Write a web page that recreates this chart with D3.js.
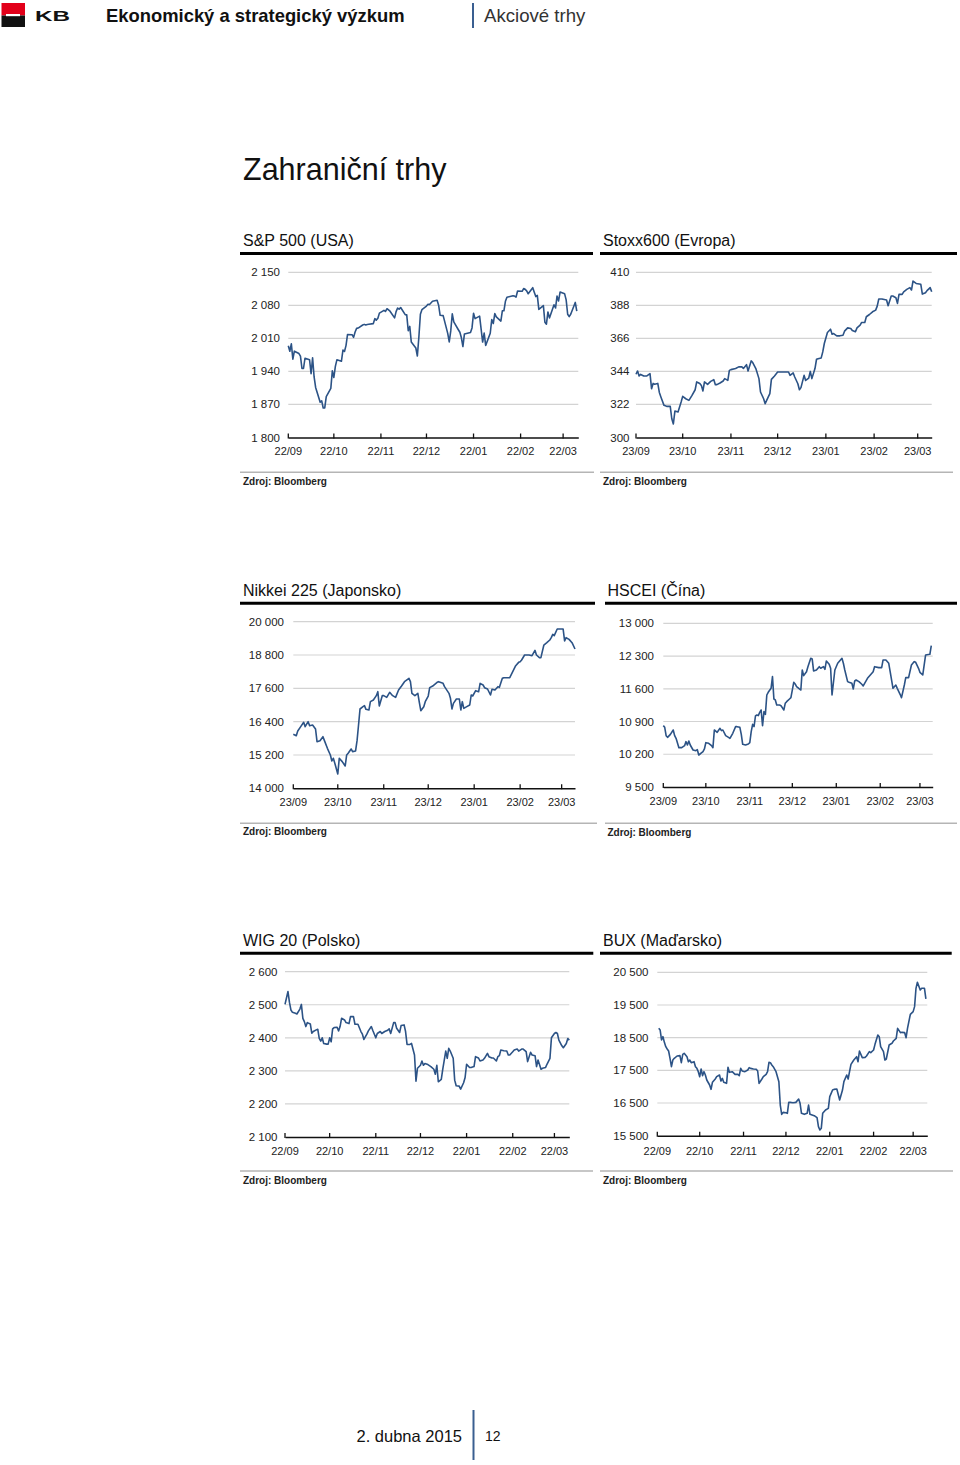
<!DOCTYPE html>
<html><head><meta charset="utf-8">
<script src="https://cdn.jsdelivr.net/npm/d3@7"></script>
<style>
body{margin:0;background:#fff}
svg{display:block}
text{font-family:"Liberation Sans",Arial,Helvetica,sans-serif}
</style>
</head><body>
<svg id="page" width="960" height="1465"></svg>
<script>
// ---------- DATA ----------
// each series: [days since first date, value]
const sp500 = [[0,1994.3],[1,1982.8],[2,1998.3],[3,1966.0],[4,1982.9],[7,1977.8],[8,1972.3],[9,1946.2],[10,1946.2],[11,1967.9],[14,1964.8],[15,1935.1],[16,1968.9],[17,1928.2],[18,1906.1],[21,1874.7],[22,1877.7],[23,1862.5],[24,1862.8],[25,1886.8],[28,1904.0],[29,1941.3],[30,1927.1],[31,1950.8],[32,1964.6],[35,1961.6],[36,1985.1],[37,1982.3],[38,1994.7],[39,2018.1],[42,2017.8],[43,2012.1],[44,2023.6],[45,2031.2],[46,2031.9],[49,2038.3],[50,2039.7],[51,2038.3],[52,2039.3],[53,2039.8],[56,2041.3],[57,2051.8],[58,2048.7],[59,2052.8],[60,2063.5],[63,2069.4],[64,2067.0],[65,2072.8],[67,2067.6],[70,2053.4],[71,2066.6],[72,2074.3],[73,2071.9],[74,2075.4],[77,2060.3],[78,2059.8],[79,2026.1],[80,2035.3],[81,2002.3],[84,1989.6],[85,1972.7],[86,2012.9],[87,2061.2],[88,2070.7],[91,2078.5],[92,2082.2],[93,2081.9],[95,2088.8],[98,2090.6],[99,2080.4],[100,2058.9],[102,2058.2],[105,2020.6],[106,2002.6],[107,2025.9],[108,2062.1],[109,2044.8],[112,2028.3],[113,2023.0],[114,2011.3],[115,1992.7],[116,2019.4],[120,2022.6],[121,2032.1],[122,2063.2],[123,2051.8],[126,2057.1],[127,2029.6],[128,2002.2],[129,2021.3],[130,1995.0],[133,2020.9],[134,2050.0],[135,2041.5],[136,2062.5],[137,2055.5],[140,2046.7],[141,2068.6],[142,2068.5],[143,2088.5],[144,2097.0],[148,2100.3],[149,2099.7],[150,2097.5],[151,2110.3],[154,2109.7],[155,2115.5],[156,2113.9],[157,2110.7],[158,2104.5],[161,2117.4],[162,2107.8],[163,2098.5],[164,2101.0],[165,2071.3],[168,2079.4],[169,2044.2],[170,2040.2],[171,2066.0],[172,2053.4],[175,2081.2],[176,2074.3],[177,2099.5],[178,2089.3],[179,2108.1],[182,2104.4],[183,2091.5],[184,2061.1],[185,2056.2],[186,2061.0],[189,2086.2],[190,2067.9]];

const stoxx600 = [[0,342.1],[1,344.3],[2,341],[3,342],[5,341],[7,341],[9,342.5],[10,332.5],[11,336],[12,335.5],[14,336],[15,330],[16,327],[18,321.4],[20,320.7],[22,320.7],[23,312.5],[24,309],[25,317.6],[27,317],[29,323.6],[30,327.4],[32,325.8],[34,324.7],[36,328],[38,331.8],[39,337],[41,336],[42,334.7],[43,331],[44,337],[46,335.4],[48,337.4],[50,338.5],[51,335.2],[52,335.2],[54,336.3],[56,337.6],[57,339.2],[59,338],[60,344.7],[61,345.2],[64,345.9],[66,347],[68,347],[69,346],[71,348.5],[72,344.3],[74,351],[75,349.9],[77,345.9],[79,339.2],[80,330.3],[82,325.8],[83,322.5],[85,327],[86,329.2],[87,338.7],[89,341],[91,343.6],[94,343.6],[96,343.6],[98,343.6],[99,341.4],[101,343],[102,340.3],[104,335.8],[105,331.8],[106,333.2],[108,341.4],[109,338],[111,339.6],[112,344],[113,339.2],[115,345.9],[116,352.1],[117,352.5],[119,353],[120,357],[121,362.6],[123,369.9],[125,372.1],[126,368.8],[127,369.2],[129,367.7],[131,367.7],[133,368.1],[134,370.8],[136,373],[138,372.6],[139,371.2],[141,370.4],[142,373],[144,374.8],[145,376.6],[147,376.6],[148,380.4],[150,381.9],[152,383.7],[154,384.8],[155,387.5],[156,392.2],[158,392.2],[161,391.5],[162,387.7],[164,394.2],[165,394.2],[167,393.1],[168,389.3],[169,395.3],[171,395.3],[172,397],[174,398.6],[176,399.8],[177,398.2],[178,404.2],[180,402.6],[183,402],[184,395.5],[186,396.4],[187,397.8],[189,399.8],[190,397.1]];

const nikkei225 = [[0,15944],[2,15896],[3,16064],[5,16220],[7,16376],[8,16220],[10,16400],[11,16256],[13,16280],[15,16136],[16,15680],[18,15716],[20,15860],[21,15716],[23,15440],[25,15200],[26,14984],[27,15080],[28,14900],[30,14516],[31,15080],[33,14960],[35,14804],[36,15200],[37,15260],[39,15416],[40,15320],[42,15344],[43,15716],[44,16280],[45,16856],[47,16940],[48,16976],[49,16844],[51,16820],[52,17120],[54,17180],[56,17336],[57,17480],[58,16964],[60,17336],[61,17336],[63,17276],[65,17456],[67,17336],[69,17276],[71,17540],[73,17684],[75,17840],[78,17960],[79,17840],[80,17420],[82,17336],[84,17420],[85,17096],[86,16796],[88,16940],[89,17120],[91,17324],[92,17624],[94,17684],[97,17816],[98,17840],[101,17780],[102,17660],[105,17420],[106,17240],[107,16856],[108,17060],[110,17216],[112,17216],[113,16820],[114,17120],[115,16880],[117,16940],[119,17000],[120,17360],[121,17324],[123,17516],[125,17480],[126,17780],[128,17720],[129,17624],[131,17576],[133,17360],[134,17564],[136,17540],[138,17660],[139,17636],[141,17960],[142,17984],[144,17984],[146,17984],[148,18200],[150,18416],[152,18536],[153,18560],[154,18620],[156,18800],[159,18800],[161,18776],[163,18968],[164,18800],[166,18704],[167,18704],[169,19160],[171,19244],[173,19340],[174,19424],[175,19544],[176,19496],[178,19736],[180,19736],[182,19736],[183,19304],[184,19424],[186,19364],[188,19244],[190,19016]];

const hscei = [[0,10812],[1,10776],[2,10598],[3,10562],[5,10626],[7,10719],[8,10598],[9,10541],[11,10341],[13,10341],[15,10384],[16,10470],[17,10398],[18,10484],[19,10398],[21,10291],[23,10277],[24,10298],[25,10184],[26,10206],[28,10256],[29,10313],[30,10448],[32,10434],[34,10384],[35,10341],[36,10719],[38,10669],[40,10755],[41,10705],[42,10719],[44,10598],[46,10562],[47,10541],[49,10648],[51,10790],[52,10790],[54,10776],[55,10626],[56,10413],[58,10398],[60,10420],[61,10448],[62,10683],[63,10840],[64,10790],[65,11018],[66,11040],[67,11026],[68,11097],[69,11147],[70,10812],[71,11111],[72,11054],[73,11467],[74,11525],[76,11610],[77,11860],[78,11382],[79,11361],[80,11254],[82,11254],[83,11239],[85,11147],[86,11289],[87,11325],[89,11382],[90,11410],[92,11738],[93,11703],[94,11646],[96,11596],[97,11574],[98,12002],[99,11881],[101,11966],[102,12073],[104,12252],[105,12238],[106,11981],[108,12002],[110,12073],[111,12038],[113,12073],[114,12016],[115,12195],[117,12123],[118,12038],[119,11467],[121,12002],[123,12145],[126,12252],[127,12145],[128,12002],[130,11753],[131,11738],[133,11717],[134,11596],[135,11767],[136,11788],[138,11753],[140,11696],[141,11660],[142,11717],[144,11824],[146,11895],[148,11966],[149,12073],[152,12052],[154,12052],[155,12216],[157,12216],[159,12145],[160,11966],[162,11610],[164,11681],[165,11610],[167,11482],[168,11410],[170,11681],[171,11838],[173,11838],[175,12109],[177,12181],[178,12166],[180,12038],[181,11952],[183,11895],[185,12323],[188,12337],[189,12522]];

const wig20 = [[0,2501],[2,2540],[3,2507],[4,2484],[5,2477],[7,2474],[8,2472],[10,2487],[11,2501],[12,2459],[13,2449],[14,2434],[15,2446],[17,2442],[18,2414],[19,2419],[21,2424],[22,2426],[23,2398],[24,2390],[25,2400],[26,2383],[28,2381],[29,2381],[30,2400],[31,2388],[32,2427],[33,2431],[35,2432],[36,2421],[37,2434],[38,2459],[40,2454],[41,2446],[43,2443],[44,2464],[46,2464],[47,2441],[49,2441],[51,2419],[52,2411],[53,2395],[55,2411],[56,2421],[58,2434],[59,2422],[61,2400],[62,2413],[64,2419],[65,2413],[67,2419],[69,2423],[70,2427],[71,2413],[73,2446],[74,2446],[75,2429],[77,2416],[78,2437],[80,2439],[81,2419],[82,2380],[84,2380],[85,2383],[87,2348],[88,2269],[89,2308],[91,2317],[92,2330],[93,2317],[94,2322],[96,2319],[98,2313],[100,2305],[101,2290],[102,2317],[103,2267],[105,2274],[106,2305],[108,2360],[109,2338],[110,2368],[111,2360],[113,2338],[114,2272],[115,2255],[117,2254],[118,2245],[120,2264],[121,2280],[122,2320],[124,2310],[125,2310],[127,2313],[128,2343],[130,2339],[131,2330],[133,2333],[134,2338],[136,2353],[137,2343],[139,2339],[140,2339],[142,2330],[143,2343],[144,2346],[145,2363],[147,2361],[149,2360],[150,2348],[151,2348],[153,2358],[154,2363],[156,2366],[157,2360],[159,2366],[160,2366],[162,2358],[163,2328],[165,2356],[166,2348],[168,2346],[169,2313],[170,2333],[172,2305],[173,2308],[175,2310],[176,2320],[178,2338],[179,2400],[181,2413],[182,2416],[183,2413],[184,2393],[186,2376],[187,2370],[189,2383],[190,2398],[191,2393]];

const bux = [[1,18786],[2,18735],[3,18429],[4,18531],[5,18357],[6,18224],[7,18153],[8,18092],[9,17867],[10,17612],[11,17816],[12,17867],[14,17939],[16,17949],[17,17735],[18,17990],[19,18020],[21,17918],[22,17765],[23,17816],[24,17735],[26,17765],[27,17612],[28,17561],[29,17459],[30,17306],[31,17541],[32,17337],[33,17459],[34,17357],[35,17204],[37,17051],[38,16918],[39,17133],[41,17235],[42,17306],[44,17357],[45,17173],[46,17255],[47,17133],[49,17102],[50,17592],[51,17439],[53,17459],[55,17378],[57,17378],[58,17337],[59,17561],[60,17480],[62,17459],[64,17510],[65,17582],[66,17561],[68,17541],[70,17531],[71,17480],[72,17102],[74,17235],[75,17306],[77,17378],[78,17459],[79,17745],[80,17735],[81,17663],[82,17612],[84,17459],[86,17153],[87,16439],[88,16153],[89,16214],[91,16204],[92,16184],[93,16520],[94,16520],[96,16510],[98,16520],[100,16622],[101,16490],[102,16184],[104,16153],[106,16184],[107,16439],[108,16153],[111,16112],[113,16051],[114,15776],[115,15674],[116,15725],[117,16184],[119,16286],[121,16337],[122,16694],[124,16898],[125,16918],[127,16929],[129,16592],[131,16898],[132,17153],[134,17357],[135,17235],[136,17459],[137,17684],[139,17816],[141,17918],[142,17765],[143,18092],[145,17888],[147,17898],[148,17939],[150,18071],[151,18041],[153,18122],[154,18296],[156,18582],[157,18531],[158,18224],[160,18071],[161,17816],[162,17847],[164,18276],[166,18327],[167,18398],[169,18480],[170,18786],[172,18653],[173,18663],[175,18653],[176,18500],[177,18786],[179,19214],[181,19296],[182,19449],[183,20010],[184,20194],[186,19959],[187,20010],[189,20010],[190,19684]];

const titles = ["S&P 500 (USA)","Stoxx600 (Evropa)","Nikkei 225 (Japonsko)","HSCEI (Čína)","WIG 20 (Polsko)","BUX (Maďarsko)"];
const startDates = ["2014-09-22","2014-09-23","2014-09-23","2014-09-23","2014-09-22","2014-09-22"];
const endDate = "2015-04-01";

const spYTicks = [1800,1870,1940,2010,2080,2150];
const stoxxYTicks = [300,322,344,366,388,410];
const nikkeiYTicks = [14000,15200,16400,17600,18800,20000];
const hsceiYTicks = [9500,10200,10900,11600,12300,13000];
const wigYTicks = [2100,2200,2300,2400,2500,2600];
const buxYTicks = [15500,16500,17500,18500,19500,20500];

const xTicks22 = ["22/09","22/10","22/11","22/12","22/01","22/02","22/03"];
const xTicks23 = ["23/09","23/10","23/11","23/12","23/01","23/02","23/03"];

const sourceNote = "Zdroj: Bloomberg";
const headerTitle = "Ekonomický a strategický výzkum";
const headerSection = "Akciové trhy";
const pageTitle = "Zahraniční trhy";
const footerDate = "2. dubna 2015";
const pageNumber = "12";

// ---------- LAYOUT ----------
const layouts = [
 {x0:288.3,x1:578.3,yTop:272.3,yBot:437.5,labelRight:280,titleX:243,titleY:245.5,ruleY:253.5,ruleX1:240,ruleX2:593,xLabelY:455,noteRuleY:472.3,noteRuleX1:240,noteRuleX2:594,noteY:484.5,noteX:243},
 {x0:636,x1:931.7,yTop:272.3,yBot:437.5,labelRight:629.5,titleX:603,titleY:245.5,ruleY:253.5,ruleX1:600,ruleX2:957,xLabelY:455,noteRuleY:472.3,noteRuleX1:600,noteRuleX2:953,noteY:484.5,noteX:603},
 {x0:293.3,x1:575,yTop:621.7,yBot:788.3,labelRight:284,titleX:243,titleY:595.5,ruleY:603.3,ruleX1:240,ruleX2:595,xLabelY:805.5,noteRuleY:823.3,noteRuleX1:240,noteRuleX2:597,noteY:835,noteX:243},
 {x0:663.3,x1:932.7,yTop:623.3,yBot:787,labelRight:654,titleX:607.5,titleY:595.5,ruleY:603.3,ruleX1:605,ruleX2:957,xLabelY:804.5,noteRuleY:823.3,noteRuleX1:605,noteRuleX2:957,noteY:835.5,noteX:607.5},
 {x0:285,x1:569.3,yTop:971.7,yBot:1137,labelRight:277.5,titleX:243,titleY:945.5,ruleY:953.3,ruleX1:240,ruleX2:593.3,xLabelY:1154.5,noteRuleY:1171,noteRuleX1:240,noteRuleX2:593,noteY:1183.5,noteX:243},
 {x0:657.3,x1:927.3,yTop:972.3,yBot:1135.7,labelRight:648.5,titleX:603,titleY:945.5,ruleY:953.3,ruleX1:600,ruleX2:951.7,xLabelY:1154.5,noteRuleY:1171,noteRuleX1:600,noteRuleX2:953,noteY:1183.5,noteX:603}
];

const seriesList = [sp500, stoxx600, nikkei225, hscei, wig20, bux];
const yTickList = [spYTicks, stoxxYTicks, nikkeiYTicks, hsceiYTicks, wigYTicks, buxYTicks];
const xTickList = [xTicks22, xTicks23, xTicks23, xTicks23, xTicks22, xTicks22];

// ---------- DRAW ----------
const svg = d3.select("#page");
const LINE = "#2c5386";
const parseISO = d3.utcParse("%Y-%m-%d");
const fmtThousands = v => d3.format(",")(v).replace(/,/g, " ");
const parseTickLabel = s => {
  const [dd, mm] = s.split("/").map(Number);
  return new Date(Date.UTC(mm >= 9 ? 2014 : 2015, mm - 1, dd));
};

// header
const logo = svg.append("g");
logo.append("rect").attr("x",1.5).attr("y",3).attr("width",23.5).attr("height",12.5).attr("fill","#e2001a");
logo.append("rect").attr("x",1.5).attr("y",15.5).attr("width",23.5).attr("height",11.5).attr("fill","#111");
logo.append("rect").attr("x",6).attr("y",14).attr("width",14).attr("height",2.2).attr("fill","#fff");
svg.append("text").attr("x",35).attr("y",20.7).attr("font-size",15).attr("font-weight","bold")
  .attr("textLength",35).attr("lengthAdjust","spacingAndGlyphs").attr("fill","#111").text("KB");
svg.append("text").attr("x",106).attr("y",22).attr("font-size",18.4).attr("font-weight","bold")
  .attr("fill","#111").text(headerTitle);
svg.append("line").attr("x1",473).attr("x2",473).attr("y1",3).attr("y2",28)
  .attr("stroke","#3a5f91").attr("stroke-width",2);
svg.append("text").attr("x",484).attr("y",22).attr("font-size",18.6).attr("fill","#333").text(headerSection);

svg.append("text").attr("x",243).attr("y",180).attr("font-size",30.5).attr("fill","#111").text(pageTitle);

seriesList.forEach((series, i) => {
  const L = layouts[i];
  const g = svg.append("g");
  const yT = yTickList[i];
  const x = d3.scaleUtc().domain([parseISO(startDates[i]), parseISO(endDate)]).range([L.x0, L.x1]);
  const y = d3.scaleLinear().domain([yT[0], yT[yT.length-1]]).range([L.yBot, L.yTop]);
  const start = parseISO(startDates[i]);
  const toDate = n => d3.utcDay.offset(start, n);

  // title and rules
  g.append("text").attr("x",L.titleX).attr("y",L.titleY).attr("font-size",16).attr("fill","#111").text(titles[i]);
  g.append("line").attr("x1",L.ruleX1).attr("x2",L.ruleX2).attr("y1",L.ruleY).attr("y2",L.ruleY)
    .attr("stroke","#000").attr("stroke-width",3);

  // gridlines
  g.append("g").selectAll("line").data(yT.slice(1)).join("line")
    .attr("x1",L.x0).attr("x2",L.x1).attr("y1",d=>y(d)).attr("y2",d=>y(d))
    .attr("stroke","#d3d3d3").attr("stroke-width",1.2);

  // y labels
  g.append("g").selectAll("text").data(yT).join("text")
    .attr("x",L.labelRight).attr("y",d=>y(d)+4).attr("text-anchor","end")
    .attr("font-size",11.5).attr("fill","#222").text(fmtThousands);

  // x axis
  const tickDates = xTickList[i].map(parseTickLabel);
  const axis = d3.axisBottom(x).tickValues(tickDates).tickSize(0).tickFormat(()=>"");
  const ag = g.append("g").attr("transform",`translate(0,${L.yBot})`).call(axis);
  ag.select(".domain").attr("stroke","#111").attr("stroke-width",1.4);
  g.append("g").selectAll("line").data(tickDates).join("line")
    .attr("x1",d=>x(d)).attr("x2",d=>x(d)).attr("y1",L.yBot-4).attr("y2",L.yBot+1)
    .attr("stroke","#111").attr("stroke-width",1.3);
  g.append("g").selectAll("text").data(xTickList[i]).join("text")
    .attr("x",(d,k)=>x(tickDates[k])).attr("y",L.xLabelY).attr("text-anchor","middle")
    .attr("font-size",11).attr("fill","#222").text(d=>d);

  // line
  const line = d3.line().x(d=>x(toDate(d[0]))).y(d=>y(d[1]));
  g.append("path").datum(series).attr("d",line).attr("fill","none")
    .attr("stroke",LINE).attr("stroke-width",1.6).attr("stroke-linejoin","round");

  // source
  g.append("line").attr("x1",L.noteRuleX1).attr("x2",L.noteRuleX2).attr("y1",L.noteRuleY).attr("y2",L.noteRuleY)
    .attr("stroke","#b5b5b5").attr("stroke-width",1.5);
  g.append("text").attr("x",L.noteX).attr("y",L.noteY).attr("font-size",10).attr("font-weight","bold")
    .attr("fill","#222").text(sourceNote);
});

// footer
svg.append("text").attr("x",462).attr("y",1442).attr("text-anchor","end").attr("font-size",16.5).attr("fill","#111").text(footerDate);
svg.append("line").attr("x1",473.5).attr("x2",473.5).attr("y1",1410).attr("y2",1460)
  .attr("stroke","#3a5f91").attr("stroke-width",2);
svg.append("text").attr("x",485).attr("y",1441).attr("font-size",14).attr("fill","#111").text(pageNumber);
</script>
</body></html>
